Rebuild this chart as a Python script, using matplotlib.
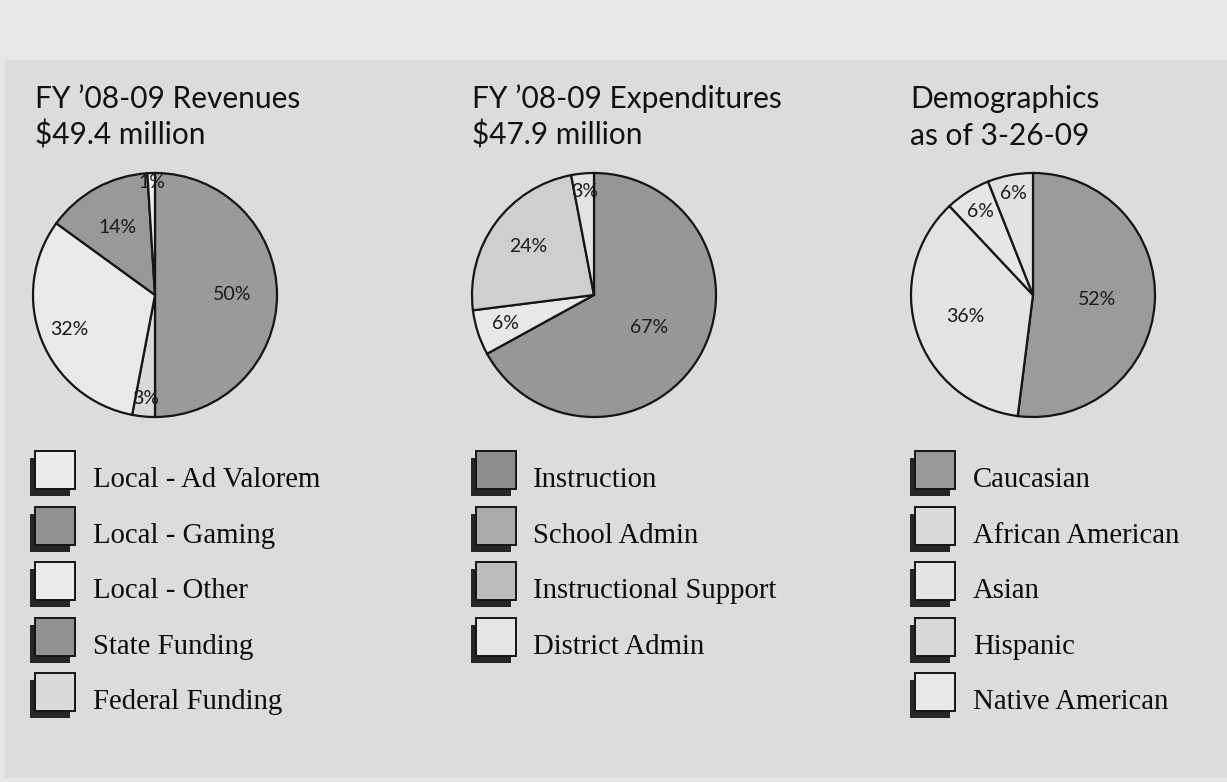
import matplotlib
matplotlib.use('Agg')

import numpy as np
import matplotlib.pyplot as plt
from matplotlib.patches import Rectangle

# ---- data ----
rev_title = ["FY \u201908-09 Revenues", "$49.4 million"]
rev_labels = ["Local - Ad Valorem", "Local - Gaming", "Local - Other", "State Funding", "Federal Funding"]
rev_values = [32, 14, 1, 50, 3]

exp_title = ["FY \u201908-09 Expenditures", "$47.9 million"]
exp_labels = ["Instruction", "School Admin", "Instructional Support", "District Admin"]
exp_values = [67, 6, 24, 3]

dem_title = ["Demographics", "as of 3-26-09"]
dem_labels = ["Caucasian", "African American", "Asian", "Hispanic", "Native American"]
dem_values = [52, 36, 6, 6, 0]

W, H = 1227, 782

def Y(py):
    return H - py

# ---- styles ----
charts = [
    dict(title=rev_title, labels=rev_labels, values=rev_values,
         order=[3, 4, 0, 1, 2],
         slice_colors=['#e9e9e9', '#999999', '#ececec', '#9a9a9a', '#d9d9d9'],
         box_colors=['#ebebeb', '#919191', '#ebebeb', '#929292', '#dadada'],
         lab_frac={0: 0.76, 1: 0.63, 2: 0.92, 3: 0.63, 4: 0.85},
         cx=155, tx=35, bx=35, lx=93),
    dict(title=exp_title, labels=exp_labels, values=exp_values,
         order=[0, 1, 2, 3],
         slice_colors=['#979797', '#e8e8e8', '#cfcfcf', '#e3e3e3'],
         box_colors=['#8e8e8e', '#ababab', '#bcbcbc', '#e6e6e6'],
         lab_frac={0: 0.52, 1: 0.76, 2: 0.67, 3: 0.85},
         cx=594, tx=472, bx=476, lx=533),
    dict(title=dem_title, labels=dem_labels, values=dem_values,
         order=[0, 1, 2, 3, 4],
         slice_colors=['#9b9b9b', '#e3e3e3', '#e6e6e6', '#e2e2e2', '#e8e8e8'],
         box_colors=['#999999', '#dadada', '#e4e4e4', '#d8d8d8', '#e8e8e8'],
         lab_frac={0: 0.53, 1: 0.58, 2: 0.81, 3: 0.85},
         cx=1033, tx=910, bx=915, lx=973),
]

PIE_CY = 295
PIE_R = 122
TITLE_FONT = 'Lato'
LEG_FONT = 'Liberation Serif'

fig = plt.figure(figsize=(W / 100, H / 100), dpi=100)
fig.patch.set_facecolor('#e7e7e7')
ax = fig.add_axes([0, 0, 1, 1])
ax.set_axis_off()

# main panel
ax.add_patch(Rectangle((5, Y(778)), W - 5, 778 - 60, facecolor='#dcdcdc',
                       edgecolor='none', zorder=0))

for ch in charts:
    idx = [i for i in ch['order'] if ch['values'][i] > 0]
    vals = [ch['values'][i] for i in idx]
    cols = [ch['slice_colors'][i] for i in idx]
    wedges, _ = ax.pie(vals, colors=cols, startangle=90, counterclock=False,
                       center=(ch['cx'], Y(PIE_CY)), radius=PIE_R,
                       wedgeprops=dict(edgecolor='#151515', linewidth=1.6))
    for w, i in zip(wedges, idx):
        ang = np.deg2rad((w.theta1 + w.theta2) / 2)
        f = ch['lab_frac'][i]
        x = ch['cx'] + f * PIE_R * np.cos(ang)
        y = Y(PIE_CY) + f * PIE_R * np.sin(ang)
        ax.text(x, y, '%d%%' % ch['values'][i], ha='center', va='center',
                fontsize=14, family=TITLE_FONT, color='#1a1a1a', zorder=5)

    # title
    ax.text(ch['tx'], Y(108), ch['title'][0], fontsize=21.5, family=TITLE_FONT,
            color='#111111', va='baseline', ha='left')
    ax.text(ch['tx'], Y(145), ch['title'][1], fontsize=21.5, family=TITLE_FONT,
            color='#111111', va='baseline', ha='left')

    # legend
    for k, lab in enumerate(ch['labels']):
        top = 451 + k * 55.6
        ax.add_patch(Rectangle((ch['bx'] - 5, Y(top + 45)), 40, 38,
                               facecolor='#262626', edgecolor='none', zorder=3))
        ax.add_patch(Rectangle((ch['bx'], Y(top + 38)), 40, 38,
                               facecolor=ch['box_colors'][k], edgecolor='#151515',
                               linewidth=1.4, zorder=4))
        ax.text(ch['lx'], Y(top + 36), lab, fontsize=20.7, family=LEG_FONT,
                color='#0d0d0d', va='baseline', ha='left')

ax.set_xlim(0, W)
ax.set_ylim(0, H)
ax.set_aspect('equal')

fig.savefig('out.png', dpi=100, facecolor=fig.get_facecolor())
plt.close(fig)
